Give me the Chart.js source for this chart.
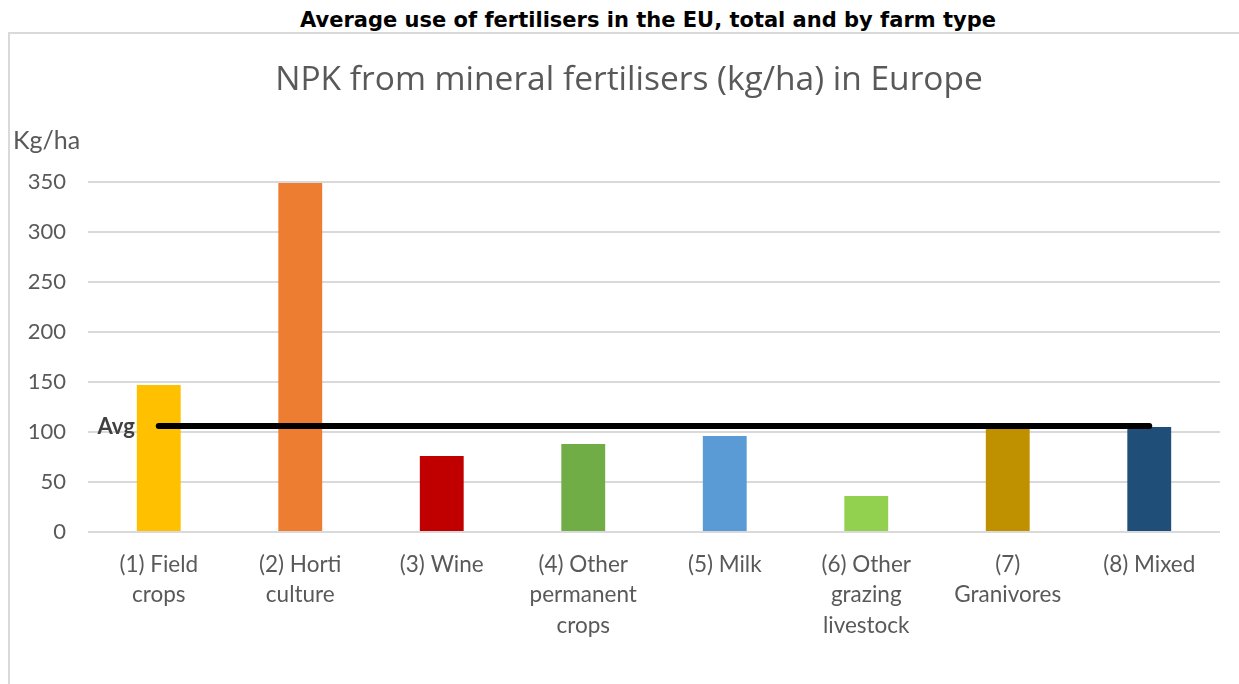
<!DOCTYPE html>
<html>
<head>
<meta charset="utf-8">
<script src="https://cdn.jsdelivr.net/npm/chart.js@4.4.0/dist/chart.umd.min.js"></script>
<style>
  html, body { margin: 0; padding: 0; background: #fff; width: 1239px; height: 684px; overflow: hidden; }
  #head { position: absolute; left: 0; top: 0; width: 1239px; height: 32px; text-align: center;
          font: bold 21px "DejaVu Sans", Verdana, sans-serif; color: #000; line-height: 24px;
          padding-top: 8px; padding-left: 57px; box-sizing: border-box; white-space: nowrap; }
  #frame { position: absolute; left: 8px; top: 32px; width: 1240px; height: 660px;
           border-left: 2px solid #d9d9d9; border-top: 2px solid #d9d9d9; }
  #wrap { position: absolute; left: 0; top: 0; width: 1229px; height: 650px; }
</style>
</head>
<body>
<div id="head">Average use of fertilisers in the EU, total and by farm type</div>
<div id="frame"><div id="wrap"><canvas id="c"></canvas></div></div>
<script>
const categories = [
  ["(1) Field", "crops"],
  ["(2) Horti", "culture"],
  ["(3) Wine"],
  ["(4) Other", "permanent", "crops"],
  ["(5) Milk"],
  ["(6) Other", "grazing", "livestock"],
  ["(7)", "Granivores"],
  ["(8) Mixed"]
];
const npkValues = [147, 349, 76, 88, 96, 36, 104, 105];
const avgValue = 106;
const avgValues = [avgValue, avgValue, avgValue, avgValue, avgValue, avgValue, avgValue, avgValue];
const barColors = ["#FFC000", "#ED7D31", "#C00000", "#70AD47", "#5B9BD5", "#92D050", "#BF9000", "#1F4E79"];
const yTicks = [0, 50, 100, 150, 200, 250, 300, 350];
const chartTitle = "NPK from mineral fertilisers (kg/ha) in Europe";
const yUnit = "Kg/ha";
const avgLabel = "Avg";

const textPlugin = {
  id: "extraText",
  afterDatasetsDraw(chart) {
    const ctx = chart.ctx;
    ctx.save();
    ctx.fillStyle = "#595959";
    ctx.font = "33.5px 'Open Sans', sans-serif";
    ctx.textAlign = "center";
    ctx.textBaseline = "alphabetic";
    ctx.fillText(chartTitle, 619, 56);
    ctx.font = "25px Lato, sans-serif";
    ctx.textAlign = "left";
    ctx.fillText(yUnit, 3, 115);
    const meta = chart.getDatasetMeta(0);
    const p0 = meta.data[0];
    ctx.fillStyle = "#404040";
    ctx.font = "bold 22px Lato, sans-serif";
    ctx.textAlign = "right";
    ctx.fillText(avgLabel, p0.x - 24, p0.y + 8);
    ctx.restore();
  }
};

new Chart(document.getElementById("c"), {
  data: {
    labels: categories,
    datasets: [
      {
        type: "line",
        data: avgValues,
        borderColor: "#000",
        borderWidth: 6,
        borderCapStyle: "round",
        pointRadius: 0,
        order: 0
      },
      {
        type: "bar",
        data: npkValues,
        backgroundColor: barColors,
        barPercentage: 0.31,
        categoryPercentage: 1,
        order: 1
      }
    ]
  },
  options: {
    responsive: true,
    maintainAspectRatio: false,
    animation: false,
    layout: { padding: { left: 0, right: 19, top: 148, bottom: 0 } },
    plugins: {
      legend: { display: false },
      tooltip: { enabled: false },
      title: { display: false }
    },
    scales: {
      x: {
        grid: { display: false, drawTicks: false },
        border: { display: false },
        ticks: {
          color: "#595959",
          font: { family: "Lato, sans-serif", size: 22.5, lineHeight: 1.36 },
          padding: 17,
          maxRotation: 0,
          autoSkip: false
        },
        afterFit(scale) { scale.height = 152; }
      },
      y: {
        min: 0,
        max: 350,
        afterBuildTicks(scale) { scale.ticks = yTicks.map(v => ({ value: v })); },
        grid: { color: "#d9d9d9", lineWidth: 2, drawTicks: false },
        border: { display: false },
        ticks: {
          color: "#595959",
          font: { family: "Lato, sans-serif", size: 22 },
          padding: 22
        },
        afterFit(scale) { scale.width = 78; }
      }
    }
  },
  plugins: [textPlugin]
});
</script>
</body>
</html>
